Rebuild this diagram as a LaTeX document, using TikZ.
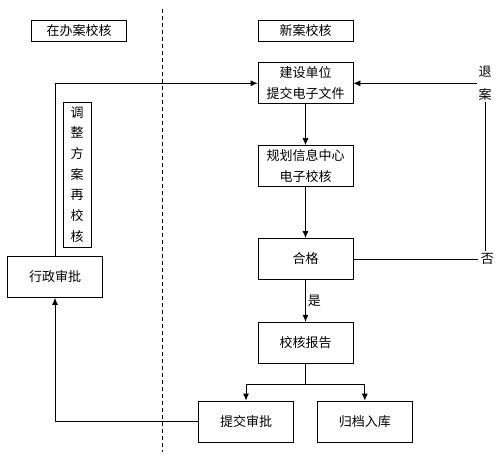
\documentclass[tikz,border=0pt]{standalone}
\usepackage{fontspec}
\setmainfont{Noto Sans CJK SC}
\usetikzlibrary{arrows.meta}
\usetikzlibrary{positioning}
\tikzset{
    kuang/.style={
           rectangle,
           draw=black,
           minimum width=95pt, minimum height=41pt,
           inner sep=2pt,
           align=center,
           },
}
\tikzset{
    jt/.style={
           -{Latex[length=7pt,width=6pt]},
           },
}

\begin{document}
\begin{tikzpicture}[x=1pt,y=-1pt,line width=0.8pt,font=\fontsize{13}{21}\selectfont]
\useasboundingbox (0,0) rectangle (501,460);
\draw[dash pattern=on 4pt off 3pt] (162,9) -- (162,452);
\node[kuang,minimum height=21pt](zai) at (79,30.5){在办案校核};
\node[kuang,minimum height=21pt](xin) at (305.5,30.5){新案校核};
\node[kuang,below = 21pt of xin](jianshe){建设单位\\提交电子文件};
\node[kuang,below = 41pt of jianshe](guihua){规划信息中心\\电子校核};
\node[kuang,below = 51pt of guihua](hege){合格};
\node[kuang,below = 42pt of hege](baogao){校核报告};
\node[kuang](tijiao) at (246,421.5){提交审批};
\node[kuang,right = 23pt of tijiao](guidang){归档入库};
\node[kuang](xingzheng) at (55,277){行政审批};
\node[kuang,minimum width=28pt,minimum height=145pt,inner sep=0pt,font=\fontsize{13}{20.7}\selectfont](tiaozheng) at (77,174.5){调\\整\\方\\案\\再\\校\\核};
\node[inner sep=2pt,right = 125pt of hege](fou){否};
\node[inner sep=1pt,align=center,font=\fontsize{13}{23}\selectfont](tuian) at (485,83.5){退\\案};
\coordinate[below = 21pt of baogao.south](fen);
\draw[jt] (jianshe) -- (guihua);
\draw[jt] (guihua) -- (hege);
\draw[jt] (hege) -- node[right,inner sep=2pt]{是} (baogao);
\draw (baogao.south) -- (fen);
\draw[jt] (fen) -| (tijiao);
\draw[jt] (fen) -| (guidang);
\draw[jt] (tijiao.west) -| (xingzheng.south);
\draw[jt] (xingzheng.north) |- (jianshe.west);
\draw (hege.east) -- (fou.west);
\draw (tuian.south) -- (tuian.south |- fou.north);
\draw[jt] (jianshe.east -| tuian.west) -- (jianshe.east);
\end{tikzpicture}
\end{document}
